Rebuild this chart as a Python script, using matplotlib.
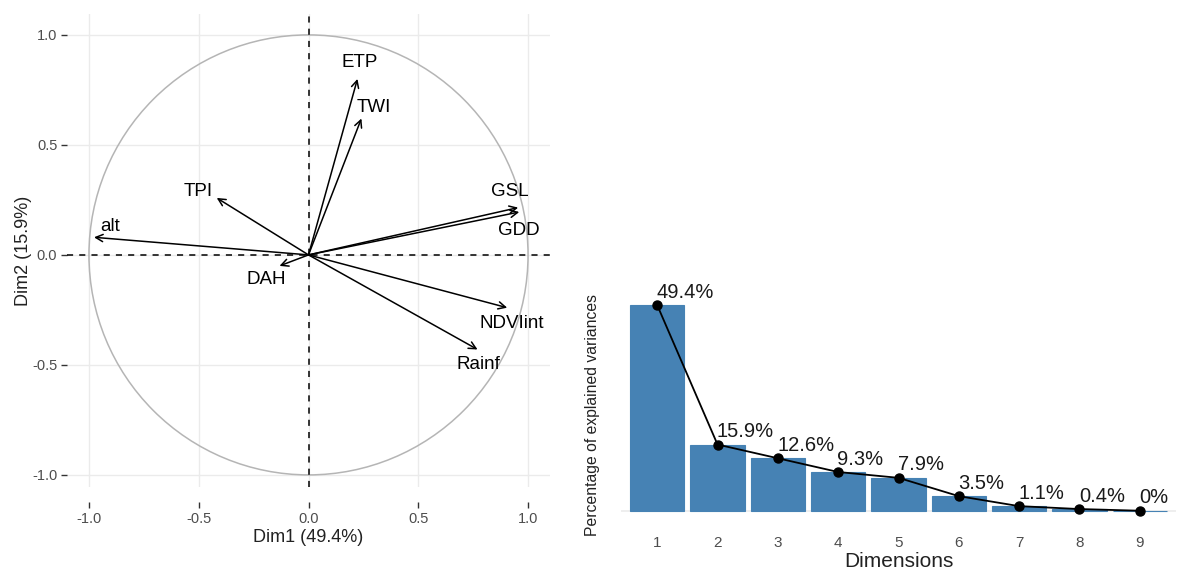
import matplotlib
matplotlib.use('Agg')
import matplotlib.pyplot as plt
from matplotlib.patches import Circle
import numpy as np

plt.rcParams['font.family'] = ['Liberation Sans', 'DejaVu Sans']

# variable coordinates on Dim1 / Dim2
var_names = ['ETP', 'TWI', 'TPI', 'alt', 'GSL', 'GDD', 'DAH', 'NDVIint', 'Rainf']
dim1 = [0.223, 0.241, -0.418, -0.977, 0.955, 0.960, -0.132, 0.905, 0.770]
dim2 = [0.800, 0.620, 0.259, 0.080, 0.215, 0.195, -0.050, -0.240, -0.430]
# where the text sits relative to the arrow tip
lab_dx = [0.010, 0.055, -0.085, 0.075, -0.040, 0.000, -0.060, 0.020, 0.005]
lab_dy = [0.075, 0.048, 0.030, 0.050, 0.075, -0.085, -0.060, -0.070, -0.070]

# scree plot
dims = [1, 2, 3, 4, 5, 6, 7, 8, 9]
variance = [49.4, 15.9, 12.6, 9.3, 7.9, 3.5, 1.1, 0.4, 0.0]
var_labels = ['49.4%', '15.9%', '12.6%', '9.3%', '7.9%', '3.5%', '1.1%', '0.4%', '0%']

grey_txt = '#4d4d4d'
grid_c = '#ebebeb'

fig = plt.figure(figsize=(11.78, 5.70), dpi=100)

# ---- correlation circle ----
ax = fig.add_axes([67/1178, (570-487)/570, 483/1178, 473/570])
ax.set_xlim(-1.1, 1.1)
ax.set_ylim(-1.055, 1.095)
ax.set_xticks([-1.0, -0.5, 0.0, 0.5, 1.0])
ax.set_yticks([-1.0, -0.5, 0.0, 0.5, 1.0])
ax.set_xticklabels(['-1.0', '-0.5', '0.0', '0.5', '1.0'])
ax.set_yticklabels(['-1.0', '-0.5', '0.0', '0.5', '1.0'])
ax.grid(True, color=grid_c, lw=1)
ax.set_axisbelow(True)
for s in ['top', 'right', 'left']:
    ax.spines[s].set_visible(False)
ax.spines['bottom'].set_position(('outward', 11))
ax.spines['bottom'].set_visible(False)
ax.tick_params(axis='x', length=4, width=1, color='#333333', labelcolor=grey_txt,
               labelsize=10.5, pad=3)
ax.tick_params(axis='y', length=4, width=1, color='#333333', labelcolor=grey_txt,
               labelsize=10.5, pad=3)

ax.add_patch(Circle((0, 0), 1.0, fill=False, ec='#b5b5b5', lw=1.1, zorder=2))
ax.axhline(0, color='black', lw=1.1, ls=(0, (4, 4)), zorder=3)
ax.axvline(0, color='black', lw=1.1, ls=(0, (4, 4)), zorder=3)

for i in range(len(var_names)):
    ax.annotate('', xy=(dim1[i], dim2[i]), xytext=(0, 0),
                arrowprops=dict(arrowstyle='->', lw=1.1, color='black',
                                mutation_scale=13, shrinkA=0, shrinkB=0), zorder=4)
    ax.text(dim1[i] + lab_dx[i], dim2[i] + lab_dy[i], var_names[i], fontsize=13.5,
            ha='center', va='center', color='black', zorder=5)

ax.set_xlabel('Dim1 (49.4%)', fontsize=13, color='#222222', labelpad=2)
ax.set_ylabel('Dim2 (15.9%)', fontsize=13, color='#222222', labelpad=0)

# ---- scree plot ----
bx = fig.add_axes([621/1178, (570-528)/570, 555/1178, 240/570])
bx.bar(dims, variance, width=0.9, color='steelblue', edgecolor='steelblue', lw=0.8, zorder=2)
bx.plot(dims, variance, color='black', lw=1.3, zorder=3)
bx.plot(dims, variance, 'o', color='black', ms=6.5, zorder=4)
for i in range(len(dims)):
    bx.annotate(var_labels[i], (dims[i], variance[i]), xytext=(-0.5, 2.5),
                textcoords='offset points', ha='left', va='bottom',
                fontsize=14.5, color='#1a1a1a', zorder=5)
bx.axhline(0, color=grid_c, lw=1.2, zorder=1)
bx.set_xlim(0.4, 9.6)
bx.set_ylim(-4.15, 53.5)
bx.set_xticks(dims)
bx.set_yticks([])
for s in bx.spines.values():
    s.set_visible(False)
bx.tick_params(axis='x', length=0, labelsize=11, labelcolor=grey_txt, pad=6)
bx.set_xlabel('Dimensions', fontsize=15, color='#222222', labelpad=1)
bx.set_ylabel('Percentage of explained variances', fontsize=11.3, color='#222222')
bx.yaxis.set_label_coords(-0.038, 0.47)

fig.savefig('out.png', dpi=100)
